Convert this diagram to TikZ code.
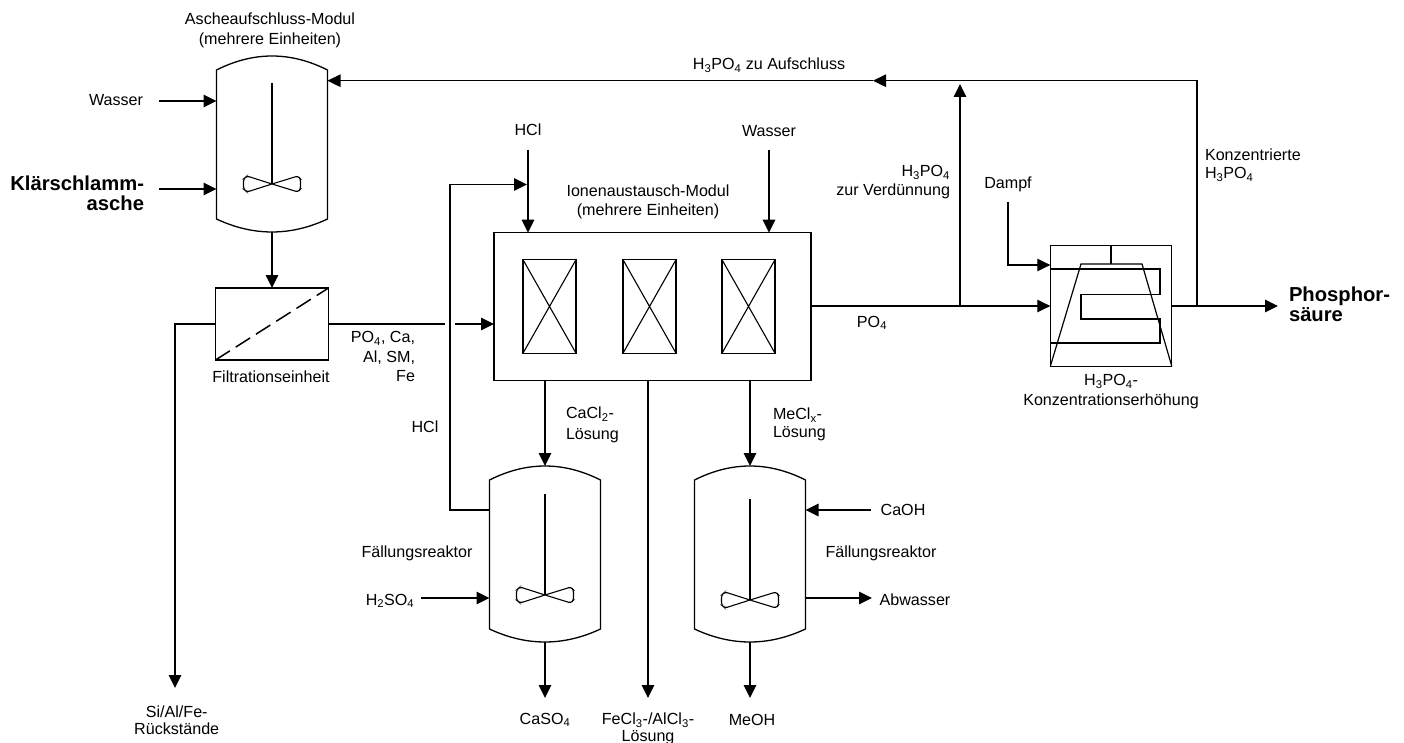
\documentclass[tikz,border=0pt]{standalone}
\usepackage{fontspec}
\setmainfont{Liberation Sans}
\usetikzlibrary{arrows.meta,calc}
\newcommand{\sbs}[1]{\textsubscript{#1}}
\tikzset{
  ln/.style={line width=1.3pt,line join=miter,black},
  arr/.style={ln,-{Triangle[length=13pt,width=12.5pt]}},
  boxn/.style={draw,line width=1.3pt,inner sep=0pt,outer sep=0pt,anchor=north west},
  lab/.style={font=\fontsize{16.1}{18.5}\selectfont,inner sep=0pt,outer sep=0pt,align=center},
  labr/.style={lab,align=right,anchor=east},
  labl/.style={lab,align=left,anchor=west},
  bold/.style={font=\fontsize{20.2}{20}\selectfont\bfseries,inner sep=0pt,outer sep=0pt},
  pics/reactor/.style={code={
    \node[minimum width=111pt,minimum height=150pt,inner sep=0pt,outer sep=0pt] (-body) at (0,88) {};
    \coordinate (-top) at (0,0);
    \coordinate (-bot) at (0,176);
    \draw[ln] (-55.5,14) .. controls (-18.5,-4.67) and (18.5,-4.67) .. (55.5,14) -- (55.5,163) .. controls (18.5,180.33) and (-18.5,180.33) .. (-55.5,163) -- cycle;
    \draw[ln,line width=1.1pt] (0,#1-101) -- (0,#1);
    \draw[ln,line width=1.1pt,rounded corners=2.5pt] (0,#1) -- (-25,#1-8) -- (-28.5,#1-5) -- (-28.5,#1+5) -- (-25,#1+8) -- (0,#1) -- (26,#1-8) -- (28.5,#1-5) -- (28.5,#1+5) -- (26,#1+8) -- cycle;
  }}
}
\begin{document}
\begin{tikzpicture}[x=1pt,y=-1pt]
\useasboundingbox[fill=white] (0,0) rectangle (1404,743);
% vessels
\pic (ra) at (272,56) {reactor=128};
\pic (rb) at (545,466) {reactor=129};
\pic (rc) at (750,466) {reactor=134};
% boxes
\node[boxn,minimum width=113pt,minimum height=72pt] (filter) at (215.5,288) {};
\draw[ln,line width=1.5pt,dash pattern=on 17pt off 7pt] (filter.south west) -- (filter.north east);
\node[boxn,minimum width=317pt,minimum height=148pt] (ion) at (494,232.7) {};
\foreach \n/\x in {a/523,b/623,c/722}{
  \node[boxn,minimum width=53pt,minimum height=93.5pt] (col\n) at (\x,259.7) {};
  \draw[ln,line width=1.1pt] (col\n.north west) -- (col\n.south east) (col\n.north east) -- (col\n.south west);
}
\node[boxn,minimum width=121.5pt,minimum height=121pt] (conc) at (1050.3,245.3) {};
\coordinate (trapa) at (1081,264);
\coordinate (trapb) at (1142,264);
\draw[ln,line width=1.2pt] (conc.south west) -- (trapa) -- (trapb) -- (conc.south east);
\draw[ln,line width=1.2pt] (conc.north) -- (conc.north |- trapa);
\draw[ln,line width=1.2pt] (conc.west |- 0,269) -- (1160,269) -- (1160,294.5) -- (1081,294.5) -- (1081,319) -- (1160,319) -- (1160,343) -- (conc.west |- 0,343);
% free ends
\coordinate (wa) at (159,101);
\coordinate (ka) at (159,189);
\coordinate (sr) at (175,688);
\coordinate (hclin) at (528,150);
\coordinate (wb) at (769,150);
\coordinate (dampf) at (1008,202);
\coordinate (pout) at (1278,306);
\coordinate (csout) at (545,698);
\coordinate (feout) at (648,698);
\coordinate (meout) at (750,698);
\coordinate (h2s) at (421,598);
\coordinate (caoh) at (871,510);
\coordinate (abw) at (872,598);
\coordinate (j1) at (960,306);
\coordinate (j2) at (1197,306);
\coordinate (j3) at (1197,80.7);
\coordinate (j4) at (873,80.7);
\coordinate (j5) at (960,84);
\coordinate (gapa) at (445,324);
\coordinate (gapb) at (455,324);
\coordinate (hcla) at (450,510);
\coordinate (hclb) at (450,184.5);
\coordinate (hclc) at (527,184.5);
\coordinate (damb) at (1008,265);
% connectors
\draw[arr] (wa) -- (wa -| ra-body.west);
\draw[arr] (ka) -- (ka -| ra-body.west);
\draw[arr] (ra-bot) -- (ra-bot |- filter.north);
\draw[arr] (filter.west |- 0,324) -| (sr);
\draw[ln] (filter.east |- gapa) -- (gapa);
\draw[arr] (gapb) -- (gapb -| ion.west);
\draw[arr] (rb-body.west |- hcla) -- (hcla) -- (hclb) -- (hclc);
\draw[arr] (hclin) -- (hclin |- ion.north);
\draw[arr] (wb) -- (wb |- ion.north);
\draw[arr] (ion.east |- j1) -- (j1 -| conc.west);
\draw[arr] (j1) -- (j5);
\draw[arr] (j2) -- (j3) -- (j4);
\draw[arr] (j4) -- (ra-body.east |- j4);
\draw[arr] (dampf) -- (damb) -- (damb -| conc.west);
\draw[arr] (conc.east |- pout) -- (pout);
\draw[arr] (rb-top |- ion.south) -- (rb-top);
\draw[arr] (rb-bot) -- (csout);
\draw[arr] (feout |- ion.south) -- (feout);
\draw[arr] (rc-top |- ion.south) -- (rc-top);
\draw[arr] (rc-bot) -- (meout);
\draw[arr] (h2s) -- (h2s -| rb-body.west);
\draw[arr] (caoh) -- (caoh -| rc-body.east);
\draw[arr] (abw -| rc-body.east) -- (abw);
% labels
\node[lab,font=\fontsize{16.1}{20}\selectfont] (t1) at (270,30) {Ascheaufschluss-Modul\\(mehrere Einheiten)};
\node[labr] (t2) at (143,100) {Wasser};
\node[bold,anchor=east,align=right] (t3) at (144,193) {Klärschlamm-\\asche};
\node[lab] (t4) at (271,377) {Filtrationseinheit};
\node[labr,font=\fontsize{16.1}{19.5}\selectfont] (t5) at (415,356.5) {PO\sbs{4}, Ca,\\Al, SM,\\Fe};
\node[lab] (t6) at (425,427) {HCl};
\node[lab] (t7) at (528,130) {HCl};
\node[lab] (t8) at (769,131) {Wasser};
\node[lab,font=\fontsize{16.1}{19.5}\selectfont] (t9) at (648,202) {Ionenaustausch-Modul\\(mehrere Einheiten)};
\node[lab] (t10) at (769,65) {H\sbs{3}PO\sbs{4} zu Aufschluss};
\node[labr] (t11) at (950,182) {H\sbs{3}PO\sbs{4}\\zur Verdünnung};
\node[lab] (t12) at (1008,184) {Dampf};
\node[labl] (t13) at (1205,165) {Konzentrierte\\H\sbs{3}PO\sbs{4}};
\node[lab] (t14) at (872,323) {PO\sbs{4}};
\node[lab,font=\fontsize{16.1}{20}\selectfont] (t15) at (1111,392) {H\sbs{3}PO\sbs{4}-\\Konzentrationserhöhung};
\node[bold,anchor=west,align=left] (t16) at (1289,304.5) {Phosphor-\\säure};
\node[labl,font=\fontsize{16.1}{21}\selectfont] (t17) at (566,425) {CaCl\sbs{2}-\\Lösung};
\node[labl,font=\fontsize{16.1}{18.5}\selectfont] (t18) at (773,424.5) {MeCl\sbs{x}-\\Lösung};
\node[lab] (t19) at (417,553) {Fällungsreaktor};
\node[lab] (t20) at (881,553) {Fällungsreaktor};
\node[lab] (t21) at (390,601) {H\sbs{2}SO\sbs{4}};
\node[lab] (t22) at (903,510) {CaOH};
\node[lab] (t23) at (915,600) {Abwasser};
\node[lab] (t24) at (545,720) {CaSO\sbs{4}};
\node[lab,font=\fontsize{16.1}{16.5}\selectfont] (t25) at (648,729) {FeCl\sbs{3}-/AlCl\sbs{3}-\\Lösung};
\node[lab] (t26) at (752,720) {MeOH};
\node[lab,font=\fontsize{16.1}{17}\selectfont] (t27) at (176.7,720.5) {Si/Al/Fe-\\Rückstände};
\end{tikzpicture}
\end{document}
